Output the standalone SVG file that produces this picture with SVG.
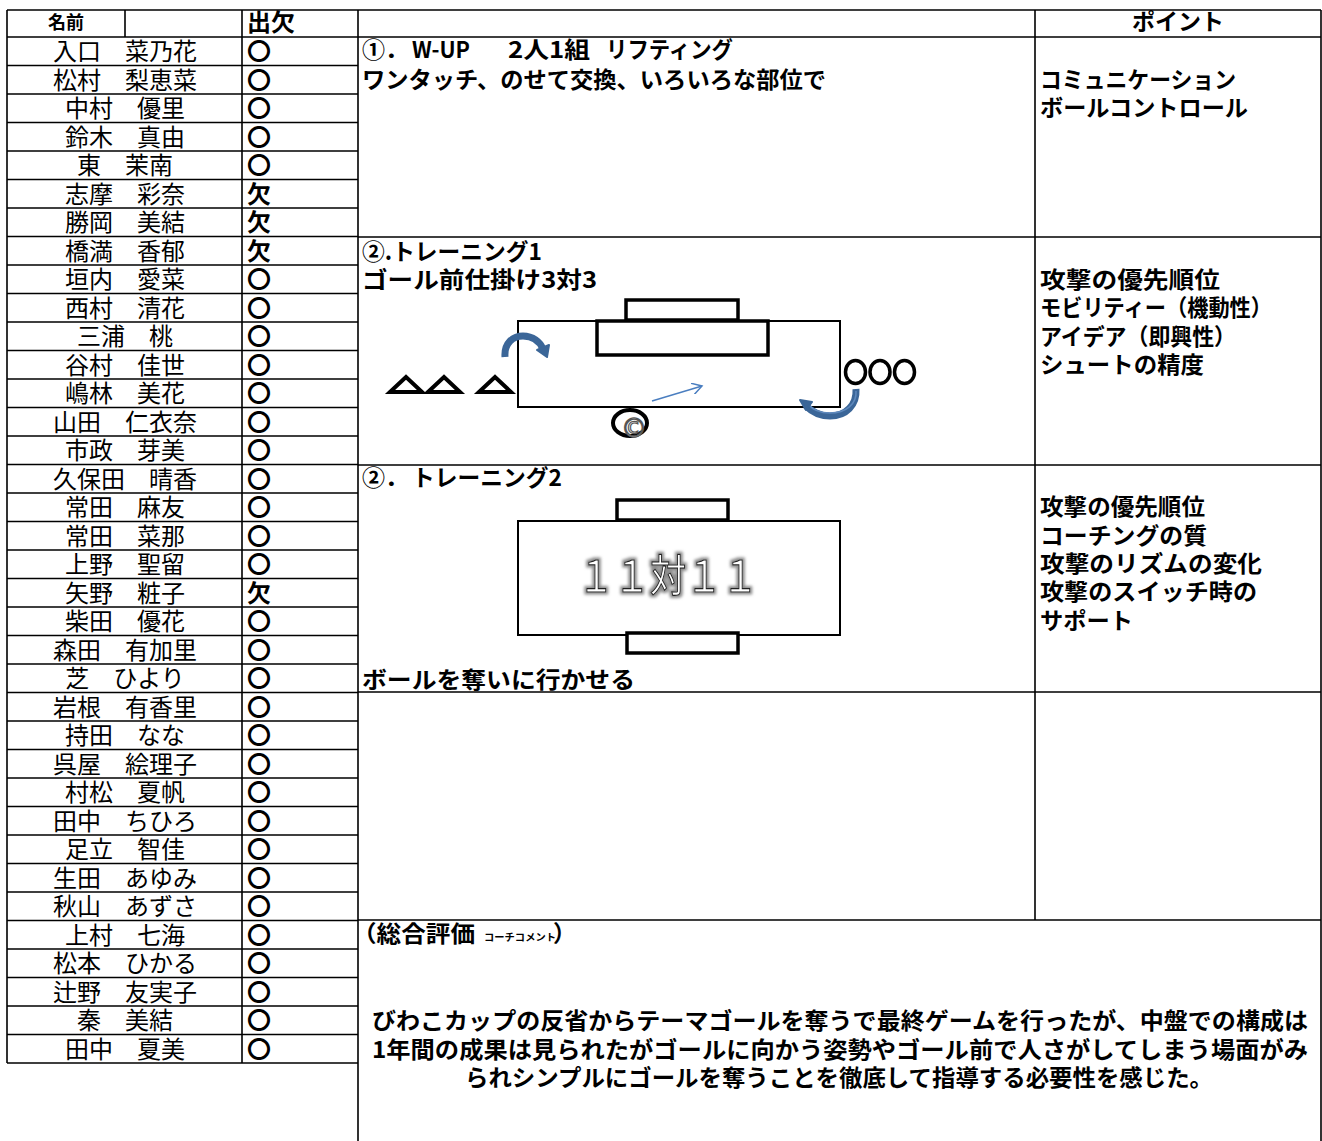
<svg xmlns="http://www.w3.org/2000/svg" width="1322" height="1141" viewBox="0 0 1322 1141">
<defs>
<style>
text{font-family:"Noto Sans CJK JP","Noto Sans",sans-serif;fill:#000}
.b{font-weight:bold;font-size:23px}
.nm{font-size:24px;text-anchor:middle}
.at{font-size:24px;font-weight:bold}
.ln{stroke:#000;stroke-width:1.6;fill:none}
.fld{stroke:#000;stroke-width:2;fill:#fff}
.goal{stroke:#000;stroke-width:3.5;fill:#fff}
.blue{stroke:#3B6698;stroke-width:7;fill:none;stroke-linecap:butt}
.blueIn{stroke:#5E88BC;stroke-width:1.5;fill:none}
.pl{stroke:#000;stroke-width:4;fill:none;stroke-linejoin:miter}
</style>
<marker id="openArrow" markerWidth="12" markerHeight="12" refX="10" refY="6" orient="auto" markerUnits="userSpaceOnUse">
<path d="M0,0 L10,6 L0,12" fill="none" stroke="#4A7EC0" stroke-width="1.5"/>
</marker>
<filter id="glow" x="-10%" y="-40%" width="120%" height="180%">
<feMorphology in="SourceAlpha" operator="dilate" radius="1.5" result="d"/>
<feGaussianBlur in="d" stdDeviation="1.6" result="bl"/>
<feFlood flood-color="#8a8a8a"/>
<feComposite in2="bl" operator="in" result="s"/>
<feMerge><feMergeNode in="s"/><feMergeNode in="SourceGraphic"/></feMerge>
</filter>
</defs>
<rect x="0" y="0" width="1322" height="1141" fill="#fff"/>

<g id="grid">
<path class="ln" d="M7,10 H1321 M7,10 V1063 M125,10 V37 M242,10 V1063 M358,10 V1141 M1035,10 V920 M1321,10 V1141
M358,37 H1321 M358,237 H1321 M358,465 H1321 M358,692 H1321 M358,920 H1321
M7,37 H358 M7,65.5 H358 M7,94 H358 M7,122.5 H358 M7,151 H358 M7,179.5 H358 M7,208 H358 M7,236.5 H358 M7,265 H358 M7,293.5 H358 M7,322 H358 M7,350.5 H358 M7,379 H358 M7,407.5 H358 M7,436 H358 M7,464.5 H358 M7,493 H358 M7,521.5 H358 M7,550 H358 M7,578.5 H358 M7,607 H358 M7,635.5 H358 M7,664 H358 M7,692.5 H358 M7,721 H358 M7,749.5 H358 M7,778 H358 M7,806.5 H358 M7,835 H358 M7,863.5 H358 M7,892 H358 M7,920.5 H358 M7,949 H358 M7,977.5 H358 M7,1006 H358 M7,1034.5 H358 M7,1063 H358"/>
</g>

<g id="header">
<text x="48" y="29" font-weight="bold" font-size="18">名前</text>
<text x="247" y="31" font-weight="bold" font-size="24">出欠</text>
<text x="1178" y="30" class="b" text-anchor="middle">ポイント</text>
</g>

<g id="names">
<text class="nm" x="125" y="60">入口　菜乃花</text>
<text class="nm" x="125" y="88.5">松村　梨恵菜</text>
<text class="nm" x="125" y="117">中村　優里</text>
<text class="nm" x="125" y="145.5">鈴木　真由</text>
<text class="nm" x="125" y="174">東　茉南</text>
<text class="nm" x="125" y="202.5">志摩　彩奈</text>
<text class="nm" x="125" y="231">勝岡　美結</text>
<text class="nm" x="125" y="259.5">橋満　香郁</text>
<text class="nm" x="125" y="288">垣内　愛菜</text>
<text class="nm" x="125" y="316.5">西村　清花</text>
<text class="nm" x="125" y="345">三浦　桃</text>
<text class="nm" x="125" y="373.5">谷村　佳世</text>
<text class="nm" x="125" y="402">嶋林　美花</text>
<text class="nm" x="125" y="430.5">山田　仁衣奈</text>
<text class="nm" x="125" y="459">市政　芽美</text>
<text class="nm" x="125" y="487.5">久保田　晴香</text>
<text class="nm" x="125" y="516">常田　麻友</text>
<text class="nm" x="125" y="544.5">常田　菜那</text>
<text class="nm" x="125" y="573">上野　聖留</text>
<text class="nm" x="125" y="601.5">矢野　粧子</text>
<text class="nm" x="125" y="630">柴田　優花</text>
<text class="nm" x="125" y="658.5">森田　有加里</text>
<text class="nm" x="125" y="687">芝　ひより</text>
<text class="nm" x="125" y="715.5">岩根　有香里</text>
<text class="nm" x="125" y="744">持田　なな</text>
<text class="nm" x="125" y="772.5">呉屋　絵理子</text>
<text class="nm" x="125" y="801">村松　夏帆</text>
<text class="nm" x="125" y="829.5">田中　ちひろ</text>
<text class="nm" x="125" y="858">足立　智佳</text>
<text class="nm" x="125" y="886.5">生田　あゆみ</text>
<text class="nm" x="125" y="915">秋山　あずさ</text>
<text class="nm" x="125" y="943.5">上村　七海</text>
<text class="nm" x="125" y="972">松本　ひかる</text>
<text class="nm" x="125" y="1000.5">辻野　友実子</text>
<text class="nm" x="125" y="1029">秦　美結</text>
<text class="nm" x="125" y="1057.5">田中　夏美</text>
</g>

<g id="attendance">
<text class="at" x="247" y="60">〇</text>
<text class="at" x="247" y="88.5">〇</text>
<text class="at" x="247" y="117">〇</text>
<text class="at" x="247" y="145.5">〇</text>
<text class="at" x="247" y="174">〇</text>
<text class="at" x="247" y="202.5">欠</text>
<text class="at" x="247" y="231">欠</text>
<text class="at" x="247" y="259.5">欠</text>
<text class="at" x="247" y="288">〇</text>
<text class="at" x="247" y="316.5">〇</text>
<text class="at" x="247" y="345">〇</text>
<text class="at" x="247" y="373.5">〇</text>
<text class="at" x="247" y="402">〇</text>
<text class="at" x="247" y="430.5">〇</text>
<text class="at" x="247" y="459">〇</text>
<text class="at" x="247" y="487.5">〇</text>
<text class="at" x="247" y="516">〇</text>
<text class="at" x="247" y="544.5">〇</text>
<text class="at" x="247" y="573">〇</text>
<text class="at" x="247" y="601.5">欠</text>
<text class="at" x="247" y="630">〇</text>
<text class="at" x="247" y="658.5">〇</text>
<text class="at" x="247" y="687">〇</text>
<text class="at" x="247" y="715.5">〇</text>
<text class="at" x="247" y="744">〇</text>
<text class="at" x="247" y="772.5">〇</text>
<text class="at" x="247" y="801">〇</text>
<text class="at" x="247" y="829.5">〇</text>
<text class="at" x="247" y="858">〇</text>
<text class="at" x="247" y="886.5">〇</text>
<text class="at" x="247" y="915">〇</text>
<text class="at" x="247" y="943.5">〇</text>
<text class="at" x="247" y="972">〇</text>
<text class="at" x="247" y="1000.5">〇</text>
<text class="at" x="247" y="1029">〇</text>
<text class="at" x="247" y="1057.5">〇</text>
</g>

<g id="section1">
<text class="b" x="362" y="58">①．</text>
<text class="b" x="412" y="58" textLength="58" lengthAdjust="spacingAndGlyphs">W-UP</text>
<text class="b" x="508" y="58" textLength="82" lengthAdjust="spacingAndGlyphs">2人1組</text>
<text class="b" x="606" y="58" textLength="127" lengthAdjust="spacingAndGlyphs">リフティング</text>
<text class="b" x="362" y="88" textLength="464" lengthAdjust="spacingAndGlyphs">ワンタッチ、のせて交換、いろいろな部位で</text>
<text class="b" x="1040" y="88" textLength="196" lengthAdjust="spacingAndGlyphs">コミュニケーション</text>
<text class="b" x="1040" y="116" textLength="208" lengthAdjust="spacingAndGlyphs">ボールコントロール</text>
</g>

<g id="section2">
<text class="b" x="362" y="260" textLength="180" lengthAdjust="spacingAndGlyphs">②.トレーニング1</text>
<text class="b" x="362" y="288" textLength="235" lengthAdjust="spacingAndGlyphs">ゴール前仕掛け3対3</text>
<text class="b" x="1040" y="288" textLength="180" lengthAdjust="spacingAndGlyphs">攻撃の優先順位</text>
<text class="b" x="1040" y="316" textLength="232" lengthAdjust="spacingAndGlyphs">モビリティー（機動性）</text>
<text class="b" x="1040" y="345" textLength="196" lengthAdjust="spacingAndGlyphs">アイデア（即興性）</text>
<text class="b" x="1040" y="373" textLength="164" lengthAdjust="spacingAndGlyphs">シュートの精度</text>
</g>

<g id="drill1">
<rect class="fld" x="518" y="321" width="322" height="86"/>
<rect class="goal" x="626" y="300" width="112" height="20"/>
<rect class="goal" x="597" y="321" width="171" height="34"/>
<polygon class="pl" points="390,392 406,377 422,392"/>
<polygon class="pl" points="428,392 444,377 460,392"/>
<polygon class="pl" points="479,392 495,377 511,392"/>
<ellipse cx="855.5" cy="372" rx="10" ry="11.5" fill="none" stroke="#000" stroke-width="3.5"/>
<ellipse cx="880" cy="372" rx="10" ry="11.5" fill="none" stroke="#000" stroke-width="3.5"/>
<ellipse cx="904.5" cy="372" rx="10" ry="11.5" fill="none" stroke="#000" stroke-width="3.5"/>
<ellipse cx="630" cy="423" rx="17" ry="13" fill="#fff" stroke="#000" stroke-width="4"/>
<text x="634" y="437" font-size="26" text-anchor="middle" style="font-family:'DejaVu Sans',sans-serif;fill:#fff;stroke:#555;stroke-width:1.2">©</text>
</g>

<g id="connectors">
<path class="blue" d="M505,357 C504,343 513,336 523,336 C533,336 540,342 543,349"/>
<polygon points="537,350 549,345 547,357" fill="#3B6698" stroke="#3B6698" stroke-width="2" stroke-linejoin="round"/>
<path class="blue" d="M856,389 C857,405 846,416 830,416 C819,416 811,411 806,406" stroke-width="8"/>
<path class="blueIn" d="M856,391 C857,404 846,413 830,413 C820,413 812,409 808,404"/>
<polygon points="800,400 812,402 806,410" fill="#3B6698" stroke="#3B6698" stroke-width="2" stroke-linejoin="round"/>
<line x1="652" y1="401" x2="702" y2="386" stroke="#4A7EC0" stroke-width="1.5" marker-end="url(#openArrow)"/>
</g>

<g id="section3">
<text class="b" x="362" y="486">②．</text>
<text class="b" x="412" y="486" textLength="150" lengthAdjust="spacingAndGlyphs">トレーニング2</text>
<text class="b" x="362" y="688" textLength="273" lengthAdjust="spacingAndGlyphs">ボールを奪いに行かせる</text>
<text class="b" x="1040" y="515" textLength="165" lengthAdjust="spacingAndGlyphs">攻撃の優先順位</text>
<text class="b" x="1040" y="544" textLength="167" lengthAdjust="spacingAndGlyphs">コーチングの質</text>
<text class="b" x="1040" y="572" textLength="222" lengthAdjust="spacingAndGlyphs">攻撃のリズムの変化</text>
<text class="b" x="1040" y="600" textLength="217" lengthAdjust="spacingAndGlyphs">攻撃のスイッチ時の</text>
<text class="b" x="1040" y="629" textLength="93" lengthAdjust="spacingAndGlyphs">サポート</text>
</g>

<g id="drill2">
<rect class="fld" x="518" y="521" width="322" height="114"/>
<rect class="goal" x="617" y="500" width="111" height="20"/>
<rect class="goal" x="627" y="633" width="111" height="20"/>
<text x="668" y="592" font-size="44" text-anchor="middle" textLength="180" lengthAdjust="spacingAndGlyphs" filter="url(#glow)" style="fill:#fff;stroke:#222;stroke-width:1.1">１１対１１</text>
</g>

<g id="comment">
<text class="b" x="352" y="942" textLength="123" lengthAdjust="spacingAndGlyphs">（総合評価</text>
<text x="484" y="941" font-size="10" font-weight="bold" textLength="72" lengthAdjust="spacingAndGlyphs">コーチコメント</text>
<text class="b" x="553" y="942">）</text>
<text class="b" x="840" y="1029" text-anchor="middle" textLength="936" lengthAdjust="spacingAndGlyphs">びわこカップの反省からテーマゴールを奪うで最終ゲームを行ったが、中盤での構成は</text>
<text class="b" x="840" y="1058" text-anchor="middle" textLength="936" lengthAdjust="spacingAndGlyphs">1年間の成果は見られたがゴールに向かう姿勢やゴール前で人さがしてしまう場面がみ</text>
<text class="b" x="839" y="1086" text-anchor="middle" textLength="748" lengthAdjust="spacingAndGlyphs">られシンプルにゴールを奪うことを徹底して指導する必要性を感じた。</text>
</g>
</svg>
